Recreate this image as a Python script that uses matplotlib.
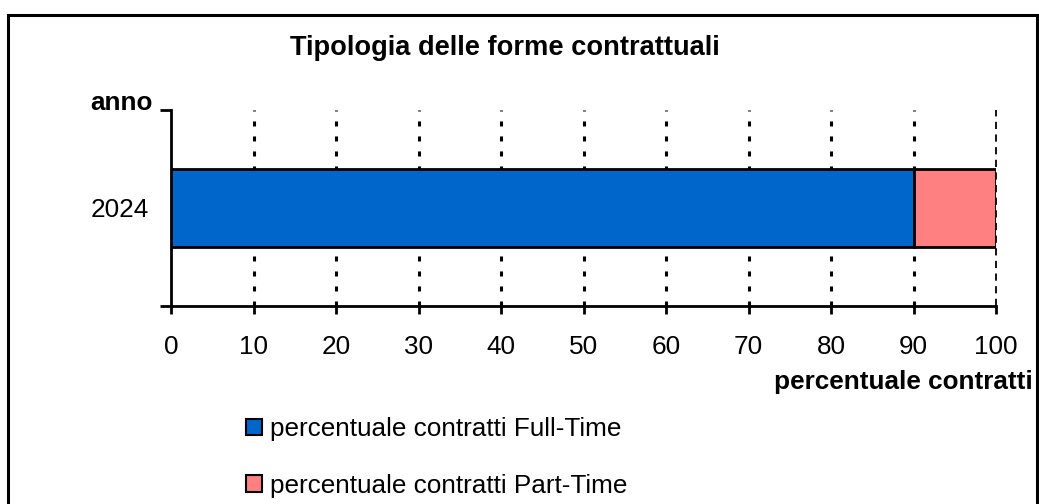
import matplotlib
matplotlib.use("Agg")
import matplotlib.pyplot as plt
from matplotlib.patches import Rectangle, Patch

plt.rcParams["font.family"] = ["Liberation Sans", "DejaVu Sans"]

anni = ["2024"]
full_time = [90]
part_time = [10]
serie = ["percentuale contratti Full-Time", "percentuale contratti Part-Time"]
colori = ["#0066CC", "#FF8080"]
xticks = list(range(0, 101, 10))

W, H = 1039, 504
fs = 18.8
fig = plt.figure(figsize=(W / 100, H / 100), dpi=100)

# frame around the whole chart, bottom edge falls outside the picture
fig.patches.append(Rectangle((8 / W, -0.1), 1029 / W, 1.1 - 15 / H,
                             transform=fig.transFigure, fill=False,
                             edgecolor="black", linewidth=2.2))

ax = fig.add_axes([171 / W, 1 - 306 / H, 825 / W, 196 / H])

ax.barh(anni, full_time, height=0.4, color=colori[0],
        edgecolor="black", linewidth=2, zorder=3)
ax.barh(anni, part_time, left=full_time, height=0.4, color=colori[1],
        edgecolor="black", linewidth=2, zorder=3)

ax.set_xlim(0, 100)
ax.set_ylim(-0.5, 0.5)
ax.set_xticks(xticks)
ax.set_xticklabels([str(v) for v in xticks], fontsize=fs)
ax.set_yticks([0])
ax.set_yticklabels(anni, fontsize=fs)
ax.tick_params(axis="y", length=0, pad=16)
ax.tick_params(axis="x", length=6, width=2, pad=15)

# boundary ticks on y axis
ax.set_yticks([-0.5, 0.5], minor=True)
ax.tick_params(axis="y", which="minor", length=8, width=2)

for v in xticks[1:-1]:
    ax.axvline(v, color="black", linewidth=2.2, linestyle=(0, (1.64, 3.27)),
               zorder=1)
ax.axvline(100, color="black", linewidth=1.3, linestyle=(0, (4, 3)),
           zorder=1, clip_on=False)

for s in ["top", "right"]:
    ax.spines[s].set_visible(False)
ax.spines["left"].set_linewidth(2)
ax.spines["bottom"].set_linewidth(2)

fig.text(505 / W, 1 - 48 / H, "Tipologia delle forme contrattuali",
         ha="center", va="center", fontsize=19.6, fontweight="bold")
fig.text(153 / W, 1 - 110 / H, "anno", ha="right", va="baseline",
         fontsize=fs, fontweight="bold")
fig.text(1033 / W, 1 - 382 / H, "percentuale contratti", ha="right",
         va="center", fontsize=fs, fontweight="bold")

handles = [Patch(facecolor=c, edgecolor="black", linewidth=1.5) for c in colori]
fig.legend(handles, serie, loc="upper left",
           bbox_to_anchor=(233 / W, 1 - 404 / H), frameon=False,
           fontsize=fs, handlelength=0.6, handleheight=0.6,
           handletextpad=0.3, labelspacing=1.25, borderpad=0)

fig.savefig("out.png", dpi=100)
